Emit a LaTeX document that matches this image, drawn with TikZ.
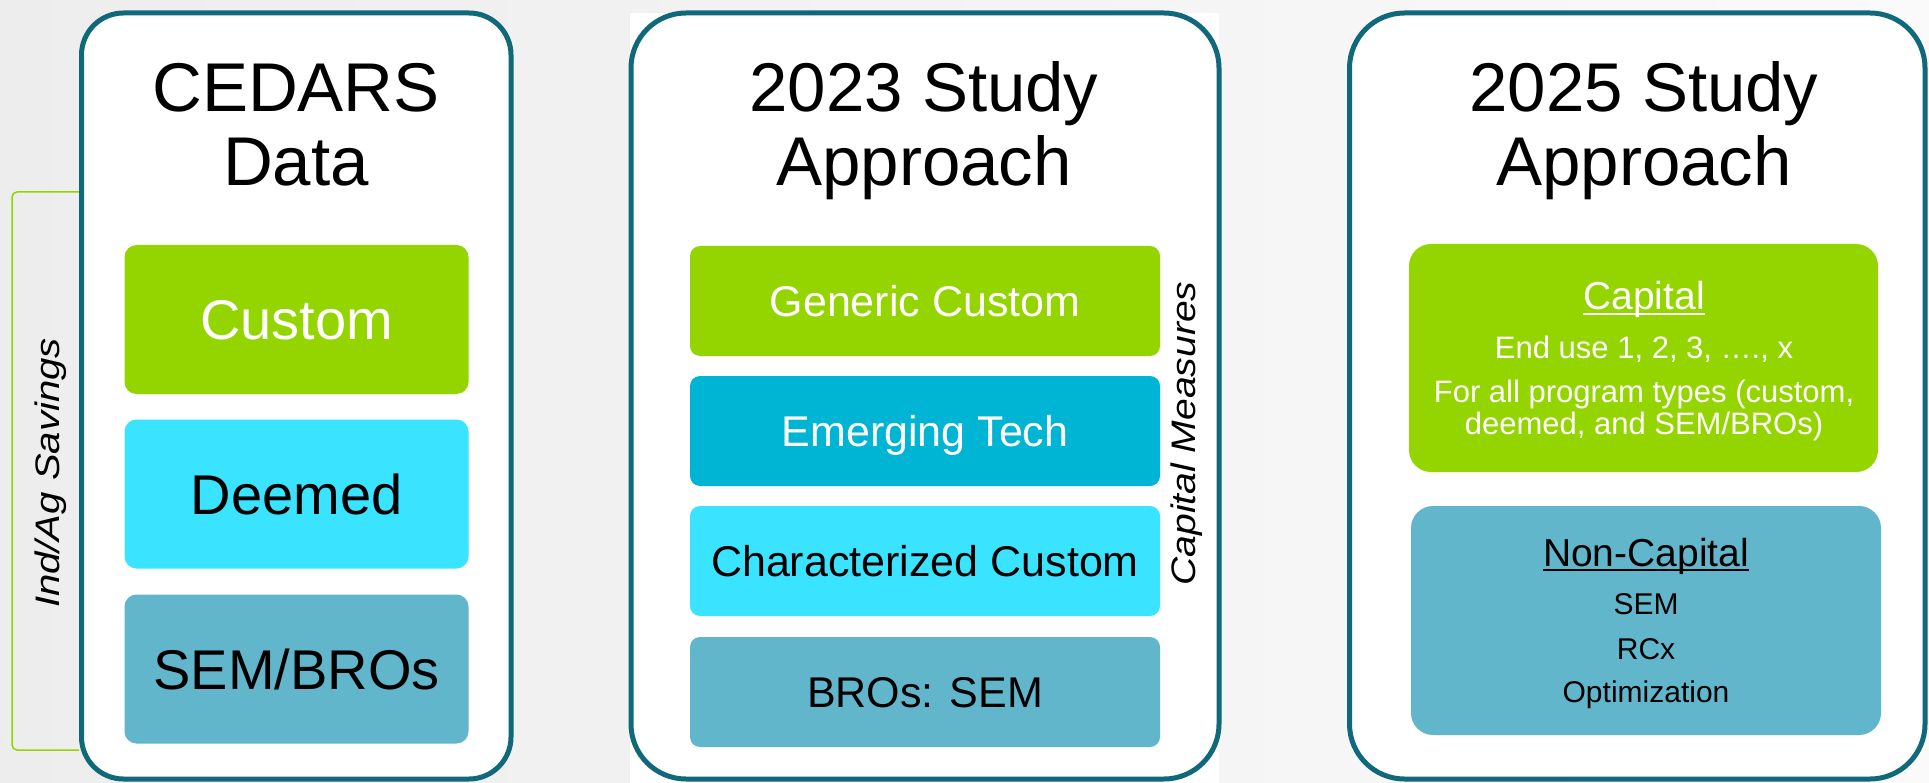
\documentclass[tikz,border=0pt]{standalone}
\usepackage{fontspec}
\setmainfont{Liberation Sans}

\definecolor{panelteal}{HTML}{0F697B}
\definecolor{limegreen}{HTML}{94D500}
\definecolor{aqua}{HTML}{3AE3FF}
\definecolor{deepaqua}{HTML}{00B5D4}
\definecolor{steelblue}{HTML}{62B6CB}

\begin{document}
\begin{tikzpicture}[x=1pt, y=-1pt,
    panel/.style={draw=panelteal, line width=5pt, fill=white, rounded corners=#1},
    title/.style={anchor=base, inner sep=0pt, font=\fontsize{69}{74}\selectfont},
    bigtile/.style={rounded corners=12pt, minimum width=344pt, minimum height=149pt, inner sep=0pt,
        text height=40pt, text depth=0pt, font=\fontsize{56}{60}\selectfont},
    midtile/.style={rounded corners=10pt, minimum width=470pt, minimum height=110pt, inner sep=0pt,
        text height=31pt, text depth=0pt, font=\fontsize{43}{46}\selectfont},
    widetile/.style={rounded corners=22pt, inner sep=0pt},
    head/.style={anchor=base, inner sep=0pt, font=\fontsize{39}{42}\selectfont},
    line/.style={anchor=base, inner sep=0pt, font=\fontsize{31}{32}\selectfont},
    bracket/.style={draw=limegreen, line width=1.5pt, rounded corners=5pt},
    sidelabel/.style={anchor=base, inner sep=0pt, rotate=90, font=\fontsize{34}{36}\selectfont\itshape}]

    % background
    \useasboundingbox (0,0) rectangle (1929,783);
    \fill[left color=black!7, right color=black!2] (0,0) rectangle (1929,783);
    \fill[white] (630,13) rectangle (1219,783);

    % brackets
    \draw[bracket] (79,192) -- (12,192) -- (12,750) -- (79,750);
    \draw[bracket] (1167,252) -- (1201,252) -- (1201,623) -- (1167,623);

    % panels
    \draw[panel=42pt] (81.5,13) rectangle (511,779);
    \draw[panel=55pt] (631,13) rectangle (1219,779);
    \draw[panel=55pt] (1349.5,13) rectangle (1925,779);

    % CEDARS data
    \node[title] (cedars) at (296,112) {CEDARS};
    \node[title] (data) at (296,186) {Data};
    \node[bigtile, fill=limegreen, text=white] (custom) at (296.5,319.5) {Custom};
    \node[bigtile, fill=aqua] (deemed) at (296.5,494) {Deemed};
    \node[bigtile, fill=steelblue] (sembros) at (296.5,669) {SEM/BROs};
    \node[sidelabel, xscale=1.18] (indag) at (59,473) {Ind/Ag Savings};

    % 2023 study
    \node[title] (study23) at (924,112) {2023 Study};
    \node[title] (appr23) at (924,186) {Approach};
    \node[midtile, fill=limegreen, text=white] (generic) at (925,301) {Generic Custom};
    \node[midtile, fill=deepaqua, text=white] (emerging) at (925,431) {Emerging Tech};
    \node[midtile, fill=aqua] (charcustom) at (925,561) {Characterized Custom};
    \node[midtile, fill=steelblue] (brosem) at (925,692) {BROs: SEM};
    \node[sidelabel, xscale=1.15] (capmeas) at (1195,433.5) {Capital Measures};

    % 2025 study
    \node[title] (study25) at (1644,112) {2025 Study};
    \node[title] (appr25) at (1644,186) {Approach};
    \node[widetile, fill=limegreen, minimum width=469pt, minimum height=228pt] (capbox) at (1643.5,358) {};
    \node[widetile, fill=steelblue, minimum width=470pt, minimum height=229pt] (noncapbox) at (1646,620.5) {};

    \node[head, text=white] (captitle) at (1644,310) {Capital};
    \draw[white, line width=2pt] ([yshift=-4pt]captitle.base west) -- ([yshift=-4pt]captitle.base east);
    \node[line, text=white] (enduse) at (1644,359) {End use 1, 2, 3, …., x};
    \node[line, text=white] (progtypes) at (1644,402) {For all program types (custom,};
    \node[line, text=white] (deemedsem) at (1644,434) {deemed, and SEM/BROs)};

    \node[head] (noncaptitle) at (1646,566) {Non-Capital};
    \draw[black, line width=2pt] ([yshift=-4pt]noncaptitle.base west) -- ([yshift=-4pt]noncaptitle.base east);
    \node[line, font=\fontsize{30}{32}\selectfont] (sem) at (1646,614) {SEM};
    \node[line, font=\fontsize{30}{32}\selectfont] (rcx) at (1646,659) {RCx};
    \node[line, font=\fontsize{30}{32}\selectfont] (optim) at (1646,702) {Optimization};
\end{tikzpicture}
\end{document}
